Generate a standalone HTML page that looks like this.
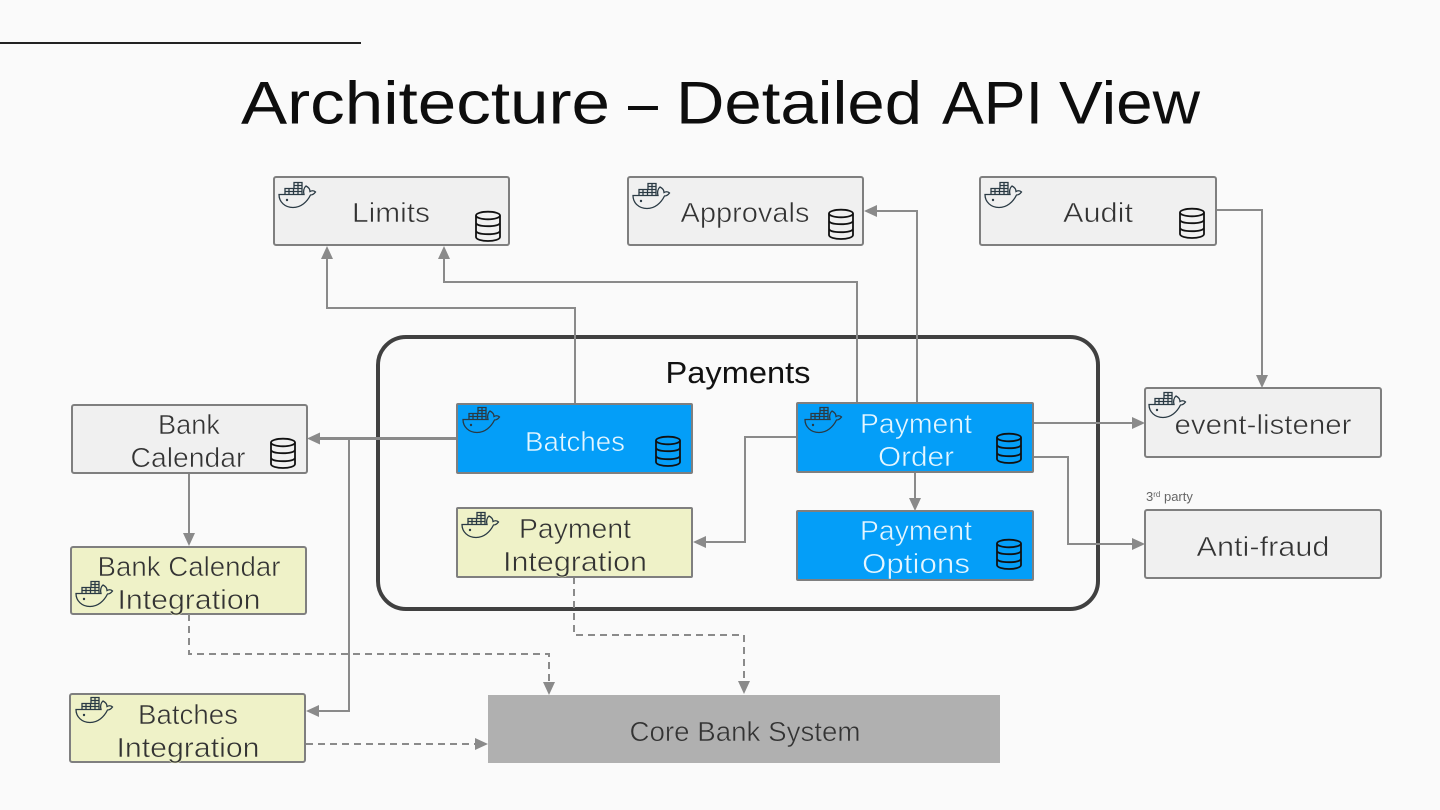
<!DOCTYPE html>
<html><head><meta charset="utf-8"><style>
html,body{margin:0;padding:0;background:#fafafa;width:1440px;height:810px;overflow:hidden}
svg{display:block}
text{font-family:"Liberation Sans",sans-serif}
.l,.w{font-size:28px;text-anchor:middle;stroke-width:.55px}
.l{fill:#333}
.sg{stroke:#f0f0f0}
.sy{stroke:#eff2c8}
.sk{stroke:#b0b0b0}
.w{fill:#e4f6ff;stroke:#049ef8}
.t{font-size:60px;fill:#0d0d0d}
.b{fill:#f0f0f0;stroke:#7f7f7f;stroke-width:2}
.y{fill:#eff2c8;stroke:#7f7f7f;stroke-width:2}
.c{fill:#049ef8;stroke:#7f7f7f;stroke-width:2}
.e{fill:none;stroke:#8a8a8a;stroke-width:2}
.d{fill:none;stroke:#8a8a8a;stroke-width:2;stroke-dasharray:7 5}
.a{fill:#8a8a8a}
</style></head><body>
<svg width="1440" height="810" viewBox="0 0 1440 810" xmlns="http://www.w3.org/2000/svg">
<defs>
<g id="dk" fill="none" stroke="#2a3a44" stroke-width="1.300">
<path d="M0 12.500H25C24 9 25 5.500 27 4C29 5 31 7 31 9.500C33 8.500 35 8.500 36.500 10C35 12 33 13 31.500 13C28 20 22 25.500 14 25.500C6 25.500 0 20 0 12.500Z"/>
<path d="M6 12.500V6.500H23V12.500M10 6.500V12.500M14.500 6.500V12.500M19 6.500V12.500M15 6.500V0.500H23V6.500M19 0.500V6.500M15 3.500H23M6 9.500H23"/>
<circle cx="8" cy="18" r="1.200" fill="#2a3a44" stroke="none"/>
</g>
<g id="db" fill="none" stroke="#111" stroke-width="1.800">
<ellipse cx="13" cy="4.500" rx="12" ry="3.800"/>
<path d="M1 4.500V26c0 2.500 6 4 12 4s12-1.500 12-4V4.500M1 11.500c0 2.700 6 3.700 12 3.700s12-1 12-3.700M1 19.500c0 2.700 6 3.700 12 3.700s12-1 12-3.700"/>
</g>
</defs>
<rect width="1440" height="810" fill="#fafafa"/>
<rect x="0" y="42" width="361" height="2" fill="#222"/>
<text class="t" x="241" y="123.500" textLength="369" lengthAdjust="spacingAndGlyphs">Architecture</text>
<text class="t" x="628" y="123.500" textLength="30" lengthAdjust="spacingAndGlyphs">–</text>
<text class="t" x="676" y="123.500" textLength="246" lengthAdjust="spacingAndGlyphs">Detailed</text>
<text class="t" x="942" y="123.500" textLength="101" lengthAdjust="spacingAndGlyphs">API</text>
<text class="t" x="1059" y="123.500" textLength="141" lengthAdjust="spacingAndGlyphs">View</text>

<rect x="378" y="337" width="720" height="272" rx="28" fill="none" stroke="#404040" stroke-width="4"/>
<text x="738" y="383" font-size="31" fill="#111" text-anchor="middle" textLength="145" lengthAdjust="spacingAndGlyphs">Payments</text>

<!-- connectors -->
<path class="e" d="M575 404V308H327V258"/>
<path class="e" d="M857 403V282H444V258"/>
<path class="e" d="M917 403V211H875"/>
<path class="e" d="M1216 210H1262V377"/>
<path class="e" d="M1033 423H1134"/>
<path class="e" d="M1033 457H1068V544H1134"/>
<path class="e" d="M915 472V500"/>
<path class="e" d="M797 437H745V542H704"/>
<path class="e" style="stroke-width:3" d="M457 438.500H318"/>
<path class="e" d="M349 438V711H317"/>
<path class="e" d="M189 473V535"/>
<path class="d" d="M189 614V654H549V684"/>
<path class="d" d="M574 577V635H744V684"/>
<path class="d" d="M306 744H477"/>
<g class="a">
<path d="M327 246l6 13h-12z"/>
<path d="M444 246l6 13h-12z"/>
<path d="M864 211l13-6v12z"/>
<path d="M1262 388l-6-13h12z"/>
<path d="M1145 423l-13-6v12z"/>
<path d="M1145 544l-13-6v12z"/>
<path d="M915 511l-6-13h12z"/>
<path d="M693 542l13-6v12z"/>
<path d="M307 438.500l13-6v12z"/>
<path d="M306 711l13-6v12z"/>
<path d="M189 546l-6-13h12z"/>
<path d="M549 695l-6-13h12z"/>
<path d="M744 694l-6-13h12z"/>
<path d="M488 744l-13-6v12z"/>
</g>

<!-- boxes -->
<rect class="b" x="274" y="177" width="235" height="68" rx="2"/>
<rect class="b" x="628" y="177" width="235" height="68" rx="2"/>
<rect class="b" x="980" y="177" width="236" height="68" rx="2"/>
<rect class="b" x="72" y="405" width="235" height="68" rx="2"/>
<rect class="c" x="457" y="404" width="235" height="69" rx="1"/>
<rect class="c" x="797" y="403" width="236" height="69" rx="1"/>
<rect class="c" x="797" y="511" width="236" height="69" rx="1"/>
<rect class="y" x="457" y="508" width="235" height="69" rx="1"/>
<rect class="y" x="71" y="547" width="235" height="67" rx="2"/>
<rect class="y" x="70" y="694" width="235" height="68" rx="2"/>
<rect class="b" x="1145" y="388" width="236" height="69" rx="2"/>
<rect class="b" x="1145" y="510" width="236" height="68" rx="2"/>
<rect x="488" y="695" width="512" height="68" fill="#b0b0b0"/>
<path class="d" d="M189 614V621"/>

<!-- labels -->
<text class="l sg" x="391" y="222" textLength="78" lengthAdjust="spacingAndGlyphs">Limits</text>
<text class="l sg" x="745" y="222" textLength="129" lengthAdjust="spacingAndGlyphs">Approvals</text>
<text class="l sg" x="1098" y="222" textLength="70" lengthAdjust="spacingAndGlyphs">Audit</text>
<text class="l sg" x="189" y="434" textLength="62" lengthAdjust="spacingAndGlyphs">Bank</text>
<text class="l sg" x="188" y="467" textLength="115" lengthAdjust="spacingAndGlyphs">Calendar</text>
<text class="w" x="575" y="451" textLength="100" lengthAdjust="spacingAndGlyphs">Batches</text>
<text class="w" x="916" y="433" textLength="112" lengthAdjust="spacingAndGlyphs">Payment</text>
<text class="w" x="916" y="466" textLength="76" lengthAdjust="spacingAndGlyphs">Order</text>
<text class="w" x="916" y="540" textLength="112" lengthAdjust="spacingAndGlyphs">Payment</text>
<text class="w" x="916" y="573" textLength="108" lengthAdjust="spacingAndGlyphs">Options</text>
<text class="l sy" x="575" y="538" textLength="112" lengthAdjust="spacingAndGlyphs">Payment</text>
<text class="l sy" x="575" y="571" textLength="144" lengthAdjust="spacingAndGlyphs">Integration</text>
<text class="l sy" x="189" y="576" textLength="183" lengthAdjust="spacingAndGlyphs">Bank Calendar</text>
<text class="l sy" x="189" y="609" textLength="143" lengthAdjust="spacingAndGlyphs">Integration</text>
<text class="l sy" x="188" y="724" textLength="100" lengthAdjust="spacingAndGlyphs">Batches</text>
<text class="l sy" x="188" y="757" textLength="143" lengthAdjust="spacingAndGlyphs">Integration</text>
<text class="l sg" x="1263" y="434" textLength="177" lengthAdjust="spacingAndGlyphs">event-listener</text>
<text class="l sg" x="1263" y="556" textLength="133" lengthAdjust="spacingAndGlyphs">Anti-fraud</text>
<text class="l sk" x="745" y="741" textLength="231" lengthAdjust="spacingAndGlyphs">Core Bank System</text>
<text x="1146" y="501" font-size="13" fill="#666">3<tspan font-size="8" dy="-4">rd</tspan><tspan dy="4"> party</tspan></text>

<!-- docker icons -->
<use href="#dk" x="279" y="182"/>
<use href="#dk" x="633" y="183"/>
<use href="#dk" x="985" y="182"/>
<use href="#dk" x="463" y="407"/>
<use href="#dk" x="805" y="407"/>
<use href="#dk" x="462" y="512"/>
<use href="#dk" x="76" y="581"/>
<use href="#dk" x="76" y="697"/>
<use href="#dk" x="1149" y="392"/>

<!-- db icons -->
<use href="#db" x="475" y="211"/>
<use href="#db" x="828" y="209"/>
<use href="#db" x="1179" y="208"/>
<use href="#db" x="270" y="438"/>
<use href="#db" x="655" y="436"/>
<use href="#db" x="996" y="433"/>
<use href="#db" x="996" y="539"/>
</svg>
</body></html>
